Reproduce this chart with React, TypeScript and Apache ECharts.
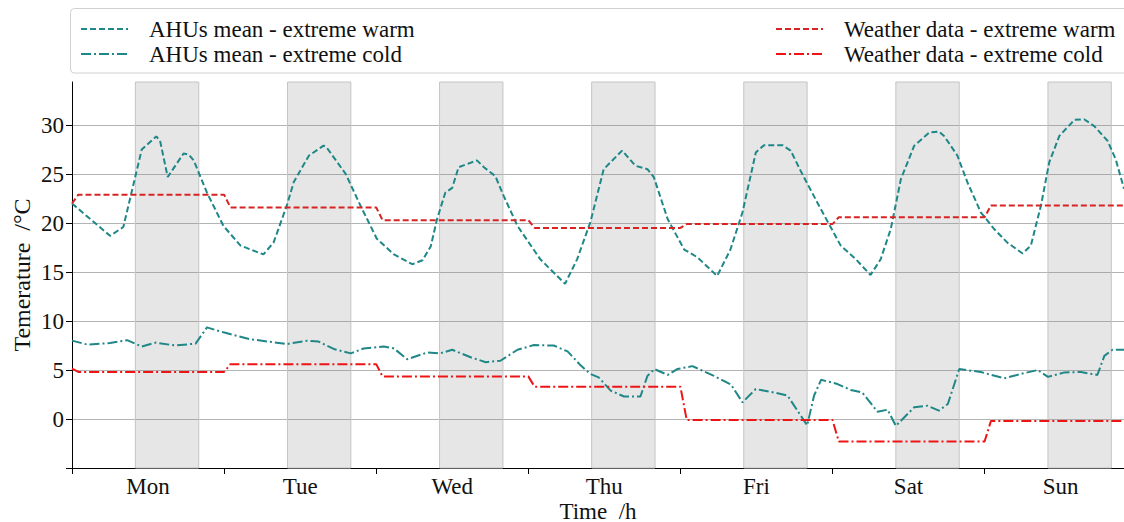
import React, { useEffect, useRef } from 'react';
import * as echarts from 'echarts';

const dayLabels = ['Mon', 'Tue', 'Wed', 'Thu', 'Fri', 'Sat', 'Sun'];
const dayTickHours = [0, 24, 48, 72, 96, 120, 144];
const dayLabelHours = [12, 36, 60, 84, 108, 132, 156];
const yTickValues = [-5, 0, 5, 10, 15, 20, 25, 30];
const yLabelValues = [0, 5, 10, 15, 20, 25, 30];
const shadeStartHours = [10, 34, 58, 82, 106, 130, 154];
const shadeEndHours = [20, 44, 68, 92, 116, 140, 164];

const ahuWarmHours = [0, 6.0, 8.1, 11.0, 13.3, 13.9, 15.1, 17.6, 18.4, 19.2, 21.3, 23.9, 26.6, 30.2, 31.8, 33.9, 35.0, 37.4, 39.7, 40.2, 43.2, 45.5, 48.1, 50.8, 53.7, 55.3, 56.6, 57.6, 58.9, 60.0, 61.0, 63.9, 65.0, 66.8, 68.1, 70.3, 73.9, 77.8, 79.7, 81.8, 83.9, 86.8, 88.9, 90.8, 91.8, 94.0, 96.6, 98.7, 101.8, 103.9, 105.8, 107.9, 109.2, 112.1, 113.4, 115.0, 117.6, 121.3, 123.7, 126.0, 127.6, 129.2, 130.8, 132.9, 135.3, 136.8, 137.6, 139.7, 141.3, 143.4, 145.5, 147.6, 150.0, 151.3, 152.9, 154.2, 155.8, 158.2, 159.7, 161.3, 163.4, 164.7, 166.0];
const ahuWarmTemps = [22.0, 18.7, 19.6, 27.5, 28.85, 28.4, 24.7, 27.1, 27.0, 26.4, 23.1, 19.7, 17.7, 16.8, 18.0, 21.8, 24.2, 26.9, 27.9, 27.7, 25.0, 21.8, 18.4, 16.8, 15.8, 16.2, 17.6, 20.4, 23.1, 23.6, 25.7, 26.4, 25.7, 24.8, 22.8, 19.7, 16.3, 13.8, 16.3, 20.1, 25.5, 27.4, 25.85, 25.5, 24.7, 20.4, 17.3, 16.5, 14.6, 17.3, 21.1, 27.2, 27.95, 27.95, 27.4, 25.3, 22.1, 17.7, 16.3, 14.7, 16.3, 19.4, 24.5, 27.9, 29.25, 29.35, 28.9, 26.9, 24.15, 21.1, 19.4, 18.0, 16.9, 17.7, 21.8, 26.2, 28.9, 30.55, 30.6, 29.9, 28.4, 26.5, 23.5];

const ahuColdHours = [0, 2.4, 6.0, 8.7, 11.0, 13.2, 16.3, 19.5, 21.3, 23.9, 28.1, 33.9, 37.1, 38.9, 41.3, 44.0, 46.0, 49.2, 50.8, 52.9, 56.1, 58.1, 60.0, 62.9, 65.3, 67.6, 70.3, 72.9, 76.0, 78.2, 80.3, 81.8, 83.1, 85.0, 87.1, 89.7, 90.8, 91.9, 94.0, 95.5, 97.9, 101.3, 104.0, 105.8, 107.9, 110.8, 112.9, 115.0, 116.0, 117.1, 118.2, 120.8, 122.9, 124.7, 127.1, 128.7, 130.0, 132.9, 135.0, 136.8, 138.2, 140.0, 143.4, 147.1, 149.7, 152.4, 154.0, 156.6, 159.2, 161.8, 162.9, 164.2, 166.0];
const ahuColdTemps = [8.0, 7.6, 7.75, 8.05, 7.4, 7.8, 7.5, 7.7, 9.35, 8.85, 8.15, 7.65, 8.0, 7.9, 7.15, 6.7, 7.2, 7.4, 7.2, 6.1, 6.8, 6.7, 7.07, 6.3, 5.8, 5.95, 7.07, 7.55, 7.5, 6.9, 5.45, 4.6, 4.25, 2.9, 2.3, 2.3, 4.4, 5.1, 4.5, 5.1, 5.4, 4.4, 3.5, 1.7, 3.06, 2.7, 2.4, 0.34, -0.65, 2.4, 4.0, 3.57, 2.96, 2.7, 0.75, 0.95, -0.7, 1.2, 1.36, 0.85, 1.53, 5.1, 4.8, 4.15, 4.6, 5.0, 4.3, 4.76, 4.8, 4.5, 6.45, 7.07, 7.07];

const weatherHours = [0, 1, 24, 25, 48, 49, 72, 73, 96, 97, 120, 121, 144, 145, 166];
const weatherWarmTemps = [22.0, 22.9, 22.9, 21.6, 21.6, 20.3, 20.3, 19.5, 19.5, 19.9, 19.9, 20.6, 20.6, 21.8, 21.8];
const weatherColdTemps = [5.15, 4.8, 4.8, 5.6, 5.6, 4.35, 4.35, 3.3, 3.3, -0.1, -0.1, -2.3, -2.3, -0.2, -0.2];

const seriesNames = [
  'AHUs mean - extreme warm',
  'AHUs mean - extreme cold',
  'Weather data - extreme warm',
  'Weather data - extreme cold',
];

const FONT = 'Liberation Serif';
const TEAL = '#1f8787';
const RED_WARM = '#d92323';
const RED_COLD = '#ee1414';
const DASH = [6, 3];
const DASH_DOT = [10, 3, 2, 3];

const zip = (xs: number[], ys: number[]) => xs.map((x, i) => [x, ys[i]]);

export default function App() {
  const ref = useRef<HTMLDivElement>(null);
  useEffect(() => {
    if (!ref.current) return;
    const chart = echarts.init(ref.current, null, { renderer: 'svg' });
    const lineSeries = (name: string, data: number[][], color: string, dash: number[]) => ({
      name,
      type: 'line',
      data,
      symbol: 'none',
      showSymbol: false,
      silent: true,
      lineStyle: { color, width: 2, type: dash },
      itemStyle: { color },
    });
    const legendBase = {
      orient: 'vertical',
      top: 16.5,
      itemWidth: 47,
      itemHeight: 14,
      itemGap: 0,
      padding: 0,
      selectedMode: false,
      itemStyle: { opacity: 0 },
      textStyle: { fontFamily: FONT, fontSize: 23, color: '#111', lineHeight: 25, padding: [0, 0, 0, 16] },
    };
    chart.setOption({
      animation: false,
      textStyle: { fontFamily: FONT },
      grid: { left: 72, right: 0, top: 82, bottom: 54, containLabel: false, outerBoundsMode: 'none' },
      legend: [
        { ...legendBase, left: 80, data: [seriesNames[0], seriesNames[1]] },
        { ...legendBase, left: 775, data: [seriesNames[2], seriesNames[3]] },
      ],
      graphic: [
        {
          type: 'rect',
          z: -1,
          shape: { x: 70.5, y: 8.5, width: 1100, height: 64.5, r: 4 },
          style: { fill: 'none', stroke: '#d0d0d0', lineWidth: 1 },
        },
      ],
      xAxis: [
        {
          type: 'value',
          min: 0,
          max: 166,
          interval: 24,
          position: 'bottom',
          name: 'Time  /h',
          nameLocation: 'middle',
          nameGap: 33,
          nameMoveOverlap: false,
          nameTextStyle: { fontFamily: FONT, fontSize: 23, lineHeight: 20, color: '#111' },
          axisLine: { show: true, onZero: false, lineStyle: { color: '#000', width: 1 } },
          axisTick: { show: true, customValues: dayTickHours, length: 6, lineStyle: { color: '#000', width: 1 } },
          axisLabel: {
            customValues: dayLabelHours,
            fontFamily: FONT,
            fontSize: 23,
            lineHeight: 20,
            color: '#111',
            margin: 8,
            formatter: (v: number) => {
              const i = dayLabelHours.indexOf(Math.round(v));
              return i >= 0 ? dayLabels[i] : '';
            },
          },
          splitLine: { show: false },
        },
      ],
      yAxis: {
        type: 'value',
        min: -5,
        max: 34.4,
        interval: 5,
        name: 'Temerature  /°C',
        nameLocation: 'middle',
        nameRotate: 90,
        nameGap: 38,
        nameMoveOverlap: false,
        nameTextStyle: { fontFamily: FONT, fontSize: 24, color: '#111' },
        axisLine: { show: true, onZero: false, lineStyle: { color: '#000', width: 1 } },
        axisTick: { show: true, customValues: yTickValues, length: 6, lineStyle: { color: '#000', width: 1 } },
        axisLabel: {
          customValues: yLabelValues,
          fontFamily: FONT,
          fontSize: 23,
          color: '#111',
          margin: 8,
          formatter: (v: number) => (yLabelValues.includes(v) ? String(v) : ''),
        },
        splitLine: { show: true, lineStyle: { color: '#b4b4b4', width: 1 } },
      },
      series: [
        {
          name: 'shade',
          type: 'line',
          data: [],
          silent: true,
          markArea: {
            silent: true,
            itemStyle: { color: 'rgba(128,128,128,0.2)', borderColor: '#c4c4c4', borderWidth: 1 },
            data: shadeStartHours.map((s, i) => [{ xAxis: s }, { xAxis: shadeEndHours[i] }]),
          },
        },
        lineSeries(seriesNames[0], zip(ahuWarmHours, ahuWarmTemps), TEAL, DASH),
        lineSeries(seriesNames[1], zip(ahuColdHours, ahuColdTemps), TEAL, DASH_DOT),
        lineSeries(seriesNames[2], zip(weatherHours, weatherWarmTemps), RED_WARM, DASH),
        lineSeries(seriesNames[3], zip(weatherHours, weatherColdTemps), RED_COLD, DASH_DOT),
      ],
    });
    return () => chart.dispose();
  }, []);
  return <div ref={ref} style={{ position: 'absolute', left: 0, top: 0, width: 1124, height: 522 }} />;
}
